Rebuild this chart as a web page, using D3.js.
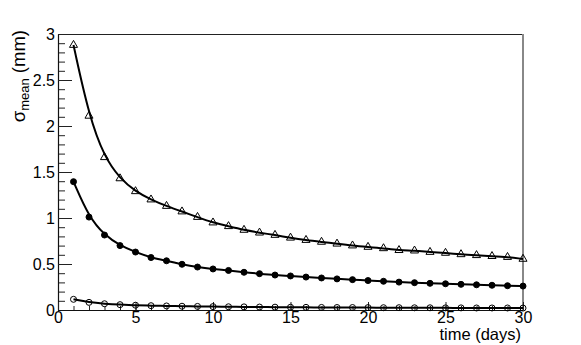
<!DOCTYPE html>
<html>
<head>
<meta charset="utf-8">
<script src="https://cdn.jsdelivr.net/npm/d3@7"></script>
<style>
  body { margin: 0; background: #fff; }
  svg text { font-family: "Liberation Sans", Arial, Helvetica, sans-serif; }
</style>
</head>
<body>
<div id="placeholder"></div>
<script>
"use strict";

// days of measurement
var days = [1, 2, 3, 4, 5, 6, 7, 8, 9, 10, 11, 12, 13, 14, 15,
            16, 17, 18, 19, 20, 21, 22, 23, 24, 25, 26, 27, 28, 29, 30];

// sigma_mean (mm)
var openTriangle = [2.88, 2.11, 1.66, 1.43, 1.29, 1.20, 1.13, 1.07, 1.01, 0.95,
                    0.91, 0.87, 0.84, 0.815, 0.785, 0.76, 0.74, 0.72, 0.70, 0.685,
                    0.67, 0.65, 0.645, 0.63, 0.62, 0.605, 0.595, 0.585, 0.575, 0.555];
var filledCircle = [1.395, 1.01, 0.815, 0.70, 0.63, 0.57, 0.535, 0.497, 0.467, 0.446,
                    0.43, 0.41, 0.395, 0.38, 0.37, 0.358, 0.348, 0.338, 0.33, 0.32,
                    0.312, 0.303, 0.297, 0.29, 0.285, 0.279, 0.274, 0.269, 0.264, 0.26];
var openCircle = [0.116, 0.083, 0.068, 0.058, 0.052, 0.047, 0.044, 0.041, 0.039, 0.037,
                  0.035, 0.034, 0.032, 0.031, 0.030, 0.029, 0.028, 0.027, 0.027, 0.026,
                  0.025, 0.025, 0.024, 0.024, 0.023, 0.023, 0.022, 0.022, 0.022, 0.021];

var xTicks = [0, 5, 10, 15, 20, 25, 30];
var yTicks = [0, 0.5, 1, 1.5, 2, 2.5, 3];

function draw() {
    //Sets the size of the frame
    var W = 581, H = 345;
    var fLeft = 58, fRight = 523, fTop = 34, fBottom = 310;

    var svg = d3.select("#placeholder")
            .append("svg")
            .attr("width", W)
            .attr("height", H);

    var x = d3.scaleLinear().domain([0, 30]).range([fLeft, fRight]);
    var y = d3.scaleLinear().domain([0, 3]).range([fBottom, fTop]);

    //frame: top dark, right grey
    svg.append("line")
            .attr("x1", fLeft).attr("x2", fRight)
            .attr("y1", fTop + 0.5).attr("y2", fTop + 0.5)
            .attr("stroke", "#222").attr("stroke-width", 1.2);
    svg.append("line")
            .attr("x1", fRight).attr("x2", fRight)
            .attr("y1", fTop).attr("y2", fBottom)
            .attr("stroke", "#888").attr("stroke-width", 2);

    //minor ticks
    svg.append("g")
            .attr("transform", "translate(" + fLeft + ",0)")
            .call(d3.axisLeft(y).tickValues(d3.range(0, 3.01, 0.1))
                    .tickSizeInner(-7).tickSizeOuter(0).tickFormat(""))
            .call(function (g) { g.select(".domain").remove(); });
    svg.append("g")
            .attr("transform", "translate(0," + fBottom + ")")
            .call(d3.axisBottom(x).tickValues(d3.range(0, 31, 1))
                    .tickSizeInner(-4).tickSizeOuter(0).tickFormat(""))
            .call(function (g) { g.select(".domain").remove(); });

    //major axes
    svg.append("g")
            .attr("transform", "translate(" + fLeft + ",0)")
            .call(d3.axisLeft(y).tickValues(yTicks)
                    .tickSizeInner(-14).tickSizeOuter(0).tickPadding(3)
                    .tickFormat(function (d) { return String(d); }));
    svg.append("g")
            .attr("transform", "translate(0," + fBottom + ")")
            .call(d3.axisBottom(x).tickValues(xTicks)
                    .tickSizeInner(-8).tickSizeOuter(0).tickPadding(2)
                    .tickFormat(function (d) { return String(d); }));

    svg.selectAll(".tick line").attr("stroke", "#222");
    svg.selectAll(".domain").attr("stroke", "#111").attr("stroke-width", 1.2);
    svg.selectAll(".tick text")
            .style("font-size", "16px")
            .attr("fill", "#000");

    //axis titles
    svg.append("text")
            .attr("x", 521)
            .attr("y", 340)
            .attr("text-anchor", "end")
            .style("font-size", "16.5px")
            .text("time (days)");

    var yTitle = svg.append("text")
            .attr("transform", "translate(25,30) rotate(-90)")
            .attr("text-anchor", "end")
            .style("font-size", "18.5px");
    yTitle.append("tspan").text("σ");
    yTitle.append("tspan").attr("dy", 4).style("font-size", "13px").text("mean");
    yTitle.append("tspan").attr("dy", -4).text(" (mm)");

    //fit curves and markers
    var series = [
        {values: openTriangle, marker: "triangle"},
        {values: filledCircle, marker: "filled"},
        {values: openCircle, marker: "open"}
    ];

    var line = d3.line()
            .x(function (d) { return x(d[0]); })
            .y(function (d) { return y(d[1]); })
            .curve(d3.curveBasis);

    series.forEach(function (s) {
        var pts = days.map(function (d, i) { return [d, s.values[i]]; });
        svg.append("path")
                .datum(pts)
                .attr("d", line)
                .attr("fill", "none")
                .attr("stroke", "#000")
                .attr("stroke-width", 2);

        var g = svg.append("g");
        if (s.marker === "triangle") {
            g.selectAll("path")
                    .data(pts).enter()
                    .append("path")
                    .attr("d", d3.symbol().type(d3.symbolTriangle).size(28))
                    .attr("transform", function (d) {
                        return "translate(" + x(d[0]) + "," + y(d[1]) + ")";
                    })
                    .attr("fill", "none")
                    .attr("stroke", "#000")
                    .attr("stroke-width", 1);
        } else {
            g.selectAll("circle")
                    .data(pts).enter()
                    .append("circle")
                    .attr("cx", function (d) { return x(d[0]); })
                    .attr("cy", function (d) { return y(d[1]); })
                    .attr("r", 3)
                    .attr("fill", s.marker === "filled" ? "#000" : "none")
                    .attr("stroke", "#000")
                    .attr("stroke-width", 1);
        }
    });
}

draw();
</script>
</body>
</html>
